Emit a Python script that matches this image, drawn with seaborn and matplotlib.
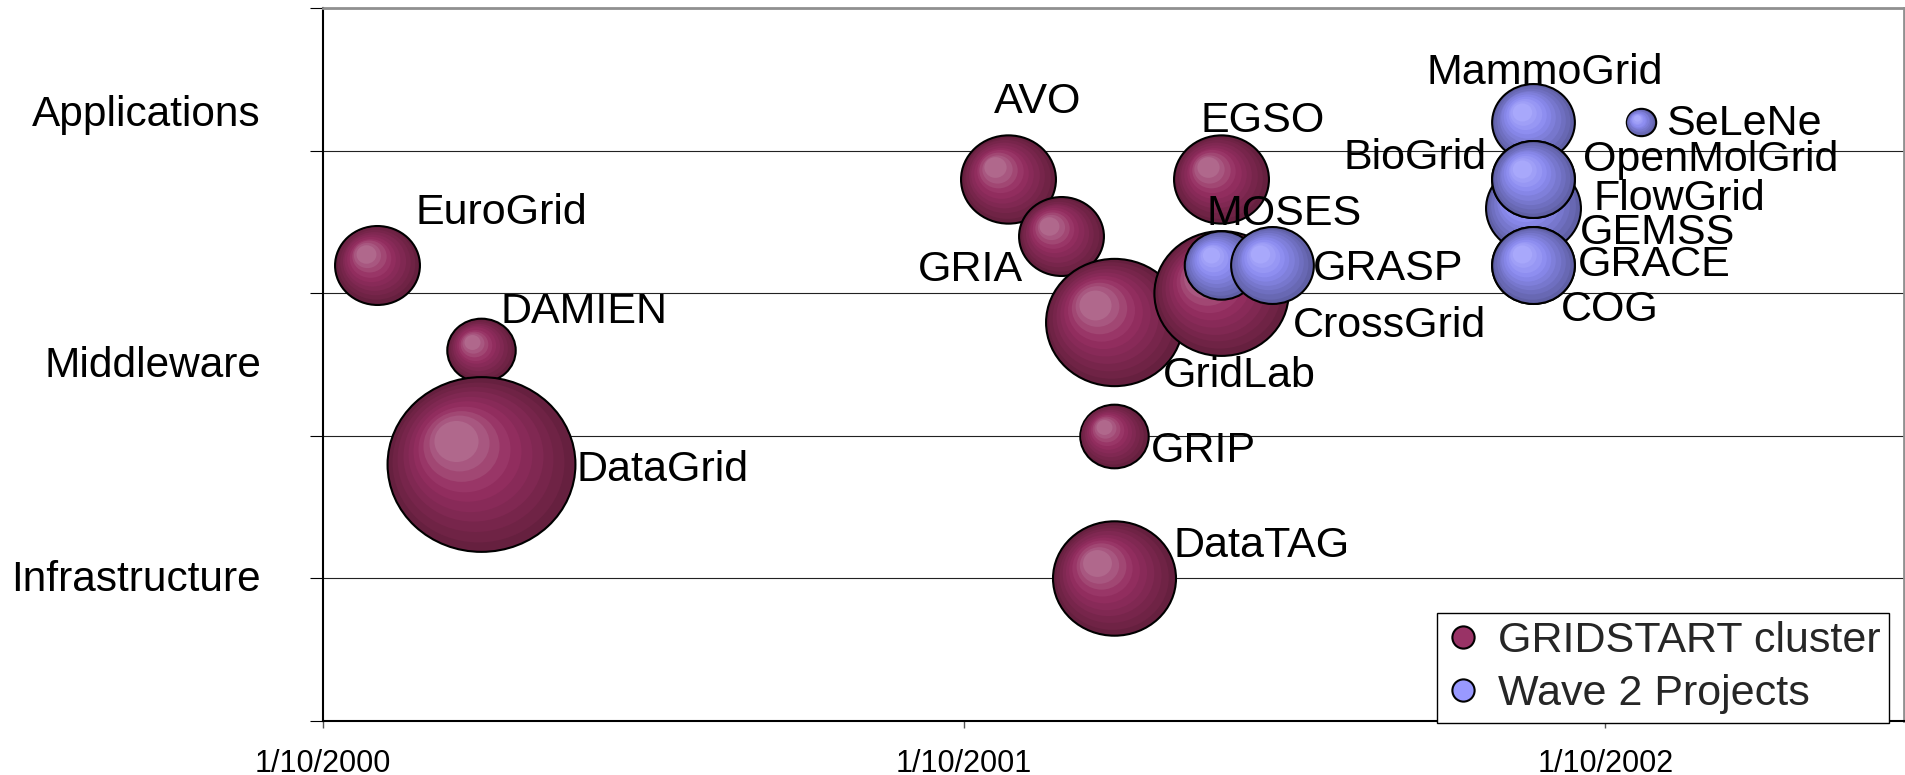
import matplotlib
matplotlib.use('Agg')
from matplotlib import pyplot as plt
from matplotlib.path import Path
from matplotlib.lines import Line2D
from matplotlib.transforms import offset_copy, blended_transform_factory
from matplotlib.colors import to_rgb
import matplotlib.dates as mdates
import numpy as np
import pandas as pd
import seaborn as sns

# Data: projects, their group, start date, layer (y) and budget (bubble area)
projects = ['EuroGrid', 'DAMIEN', 'DataGrid', 'AVO', 'GRIA', 'GridLab', 'GRIP', 'DataTAG', 'EGSO', 'CrossGrid',
            'MOSES', 'GRASP', 'FlowGrid', 'GEMSS', 'MammoGrid', 'BioGrid', 'OpenMolGrid', 'GRACE', 'COG', 'SeLeNe']
groups = ['GRIDSTART cluster'] * 10 + ['Wave 2 Projects'] * 10
start = ['2000-11-01', '2000-12-30', '2000-12-30', '2001-10-26', '2001-11-25',
         '2001-12-25', '2001-12-25', '2001-12-25', '2002-02-24', '2002-02-24',
         '2002-02-24', '2002-03-25', '2002-08-21', '2002-08-21', '2002-08-21',
         '2002-08-21', '2002-08-21', '2002-08-21', '2002-08-21', '2002-10-21']
level = [3.2, 2.6, 1.8, 3.8, 3.4, 2.8, 2.0, 1.0, 3.8, 3.0,
         3.2, 3.2, 3.6, 3.6, 4.2, 3.8, 3.8, 3.2, 3.2, 4.2]
budget = [2.0, 1.3, 9.8, 2.5, 2.0, 5.2, 1.3, 4.2, 2.5, 5.0,
          1.5, 1.9, 1.9, 2.5, 1.9, 1.9, 1.9, 1.9, 1.9, 0.24]

layer_names = ['Applications', 'Middleware', 'Infrastructure']
tick_dates = ['2000-10-01', '2001-10-01', '2002-10-01']
tick_labels = ['1/10/2000', '1/10/2001', '1/10/2002']

# label placement next to each bubble (pixels right / up, alignment)
label_dx = [38, 19, 95, -14, -38, 49, 37, 60, -20, 72, -14, 41, 60, 47, 11, -47, 50, 45, 28, 26]
label_dy = [56, 42, -2, 81, -30, -50, -11, 36, 62, -29, 55, 0, 13, -21, 53, 25, 23, 4, -41, 2]
label_ha = ['left'] * 20
label_ha[4] = 'right'
label_ha[15] = 'right'
label_ha[14] = 'center'
layer_label_y = [4.28, 2.52, 1.02]

df = pd.DataFrame({'project': projects, 'group': groups, 'level': level, 'budget': budget})
df['x'] = mdates.date2num(pd.to_datetime(start))

# colours: (edge shade, body, highlight)
shades = {
    'GRIDSTART cluster': ('#66203f', '#952e61', '#b87898'),
    'Wave 2 Projects': ('#6060a6', '#8a8aee', '#b0b0ff'),
}
legend_colors = {'GRIDSTART cluster': '#993366', 'Wave 2 Projects': '#9999ff'}

sns.set_theme(style='white')
plt.rcParams['font.family'] = ['Liberation Sans', 'DejaVu Sans']

fig = plt.figure(figsize=(19.05, 7.75), dpi=100)
ax = fig.add_axes([323 / 1905, 1 - 721 / 775, 1581 / 1905, 713 / 775])

# slightly squashed circle, like the stretched excel bubbles
circ = Path.unit_circle()
ell = Path(circ.vertices * [1, 0.93], circ.codes)

S_MAX = 18300
V_MAX = 9.8
N = 10


def blend(a, b, t):
    a, b = np.array(to_rgb(a)), np.array(to_rgb(b))
    return tuple(a + (b - a) * t)


for i, row in df.iterrows():
    s = S_MAX * row.budget / V_MAX
    r = np.sqrt(s) / 2
    dark, body, light = shades[row.group]
    z = 3 + i
    sns.scatterplot(x=[row.x], y=[row.level], s=s, color=dark, edgecolor='black',
                    linewidth=1.5, marker=ell, zorder=z, ax=ax, legend=False)
    # fake radial gradient with offset rings
    for k in range(1, N):
        t = k / N
        if t < 0.55:
            c = blend(dark, body, t / 0.55)
        else:
            c = blend(body, light, (t - 0.55) / 0.45)
        tr = offset_copy(ax.transData, fig=fig, x=-0.3 * r * t, y=0.3 * 0.93 * r * t, units='points')
        ax.scatter([row.x], [row.level], s=s * (1 - 0.85 * t) ** 2, color=c, linewidths=0,
                   marker=ell, transform=tr, zorder=z)

for i, row in df.iterrows():
    ax.annotate(row.project, (row.x, row.level), xytext=(label_dx[i], label_dy[i] - 15),
                textcoords='offset pixels', ha=label_ha[i], va='baseline',
                fontsize=31, color='black', zorder=60)

# layer names on the left
tb = blended_transform_factory(ax.transAxes, ax.transData)
for name, yv in zip(layer_names, layer_label_y):
    ax.annotate(name, (0, yv), xycoords=tb, xytext=(-62, -15), textcoords='offset pixels',
                ha='right', va='baseline', fontsize=30.5, color='black', annotation_clip=False)

ax.set_xlim(mdates.date2num(pd.Timestamp('2000-10-01')), mdates.date2num(pd.Timestamp('2003-03-20')))
ax.set_ylim(0, 5)
ax.set_xticks(mdates.date2num(pd.to_datetime(tick_dates)))
ax.set_xticklabels(tick_labels)
ax.set_yticks(range(6))
ax.set_yticklabels([])
ax.set_xlabel('')
ax.set_ylabel('')

ax.set_axisbelow(True)
ax.yaxis.grid(True, color='#222222', linewidth=0.8)
ax.xaxis.grid(False)

ax.tick_params(axis='y', left=True, direction='out', length=9.4, width=0.8, color='black')
ax.tick_params(axis='x', bottom=True, direction='out', length=5, width=1, color='#555555',
               labelsize=22, pad=15, labelcolor='black')

for side in ['left', 'bottom']:
    ax.spines[side].set_color('black')
    ax.spines[side].set_linewidth(1.5)
for side in ['top', 'right']:
    ax.spines[side].set_color('#909090')
    ax.spines[side].set_linewidth(2)

handles = [Line2D([], [], marker='o', ls='', markerfacecolor=legend_colors[g], markeredgecolor='black',
                  markersize=16, markeredgewidth=1.5, label=g) for g in legend_colors]
leg = ax.legend(handles=handles, fontsize=31, loc='lower right', bbox_to_anchor=(0.9905, -0.0028),
                frameon=True, fancybox=False, edgecolor='black', framealpha=1, borderpad=0.2,
                labelspacing=0.3, handlelength=0.8, handletextpad=0.4, borderaxespad=0)
leg.get_frame().set_linewidth(1.0)
leg.set_zorder(100)

fig.savefig('out.png', dpi=100)
